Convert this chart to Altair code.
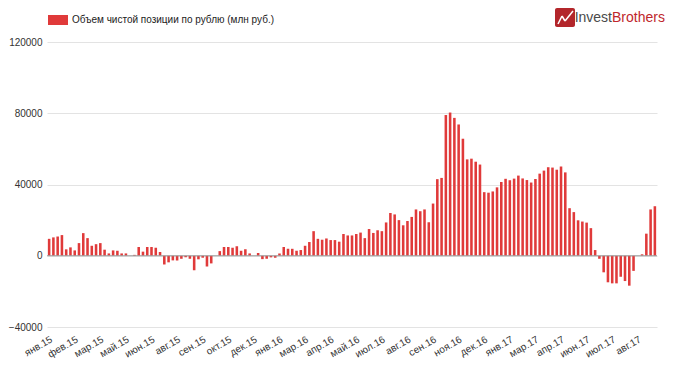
import json
import altair as alt
import pandas as pd

series_name = "Объем чистой позиции по рублю (млн руб.)"

tick_labels = ["янв.15", "фев.15", "мар.15", "май.15", "июн.15", "авг.15", "сен.15",
               "окт.15", "дек.15", "янв.16", "мар.16", "апр.16", "май.16", "июл.16",
               "авг.16", "сен.16", "ноя.16", "дек.16", "янв.17", "мар.17", "апр.17",
               "июн.17", "июл.17", "авг.17"]
label_every = 6

values = [
    9500, 10300, 10800, 11600, 3600, 4700, 3000, 7100, 12700, 9900,
    5600, 6500, 7100, 3400, 1300, 3000, 2800, 1300, 1300, 0,
    500, 4900, 2300, 4900, 4900, 4500, 2100, -4900, -3700, -2600,
    -2600, -1700, -900, -1700, -8200, -2000, -1100, -6000, -4300, 0,
    2600, 4900, 4900, 4500, 5400, 2800, 3600, 1300, 0, 1500,
    -1900, -1700, -900, -1100, 1300, 4900, 3900, 3900, 2800, 3200,
    5600, 7700, 13800, 9500, 9000, 9700, 8800, 8800, 7900, 12200,
    11400, 11400, 12200, 13000, 9900, 15000, 12800, 14300, 13800, 18700,
    24000, 23200, 20000, 17100, 19500, 21800, 26000, 25000, 26000, 18800,
    29300, 43000, 43700, 79000, 80400, 77400, 73700, 65700, 54100, 54500,
    52800, 51200, 35700, 35400, 36100, 38400, 41400, 43200, 42400, 43300,
    45000, 43400, 42500, 41100, 43100, 46100, 47800, 49700, 49500, 48300,
    50100, 46800, 26700, 24500, 19900, 19200, 18600, 15500, 3200, -1700,
    -9300, -14900, -15500, -15500, -11800, -14200, -16800, -8500, 0, 800,
    12400, 26000, 27800,
]

y_ticks = [-40000, 0, 40000, 80000, 120000]

weeks = list(range(len(values)))
df = pd.DataFrame({"week": weeks, "value": values, "series": [series_name] * len(values)})

FONT = "Liberation Sans"
RED = "#e03a3a"

label_expr = json.dumps(tick_labels, ensure_ascii=False) + f"[floor(datum.value / {label_every})]"

bars = alt.Chart(df).mark_bar(color=RED).encode(
    x=alt.X(
        "week:O",
        scale=alt.Scale(paddingInner=0.4, paddingOuter=0.2),
        axis=alt.Axis(
            values=list(range(0, len(values), label_every)),
            labelExpr=label_expr,
            labelAngle=-30,
            labelAlign="right",
            labelBaseline="top",
            ticks=False,
            domain=False,
            grid=False,
            labelPadding=7,
            title=None,
            labelFont=FONT,
            labelFontSize=10,
            labelColor="#333333",
        ),
    ),
    y=alt.Y(
        "value:Q",
        scale=alt.Scale(domain=[y_ticks[0], y_ticks[-1]], nice=False, zero=False),
        axis=alt.Axis(
            values=y_ticks,
            format="d",
            ticks=False,
            domain=False,
            grid=True,
            gridColor="#e3e3e3",
            labelPadding=5,
            title=None,
            labelFont=FONT,
            labelFontSize=10,
            labelColor="#333333",
        ),
    ),
    color=alt.Color(
        "series:N",
        scale=alt.Scale(range=[RED]),
        legend=alt.Legend(
            title=None,
            orient="none",
            legendX=1,
            legendY=-32,
            symbolType="M-1,-0.5H1V0.5H-1Z",
            symbolSize=400,
            symbolStrokeWidth=0,
            labelFont=FONT,
            labelFontSize=10,
            labelColor="#222222",
            labelLimit=500,
            padding=0,
        ),
    ),
)

zero_line = alt.Chart(pd.DataFrame({"base": [0]})).mark_rule(color="#9a9a9a", strokeWidth=1).encode(
    y=alt.Y("base:Q")
)

brand1 = alt.Chart(pd.DataFrame({"brand": ["Invest"]})).mark_text(
    align="right", baseline="middle", font=FONT, fontSize=14, color="#4a4a4a"
).encode(text="brand:N", x=alt.value(565), y=alt.value(-24))

brand2 = alt.Chart(pd.DataFrame({"brand": ["Brothers"]})).mark_text(
    align="left", baseline="middle", font=FONT, fontSize=14, color="#c0272d"
).encode(text="brand:N", x=alt.value(565), y=alt.value(-24))

icon = alt.Chart(pd.DataFrame({"icon": [1]})).mark_rect(color="#b3262b", cornerRadius=2).encode(
    x=alt.value(508), x2=alt.value(528), y=alt.value(-34), y2=alt.value(-15)
)

seg1 = alt.Chart(pd.DataFrame({"s": [1]})).mark_rule(color="white", strokeWidth=1.5).encode(
    x=alt.value(511), y=alt.value(-18), x2=alt.value(515), y2=alt.value(-26)
)
seg2 = alt.Chart(pd.DataFrame({"s": [2]})).mark_rule(color="white", strokeWidth=1.5).encode(
    x=alt.value(515), y=alt.value(-26), x2=alt.value(518), y2=alt.value(-21)
)
seg3 = alt.Chart(pd.DataFrame({"s": [3]})).mark_rule(color="white", strokeWidth=1.5).encode(
    x=alt.value(518), y=alt.value(-21), x2=alt.value(526), y2=alt.value(-31)
)

chart = alt.layer(bars, zero_line, icon, seg1, seg2, seg3, brand1, brand2).properties(
    width=610,
    height=285,
    autosize=alt.AutoSizeParams(type="none"),
    padding={"left": 39, "top": 34, "right": 15, "bottom": 37},
    background="white",
).configure_view(stroke=None)

chart.save("out.html", embed_options={"renderer": "svg", "actions": False})
